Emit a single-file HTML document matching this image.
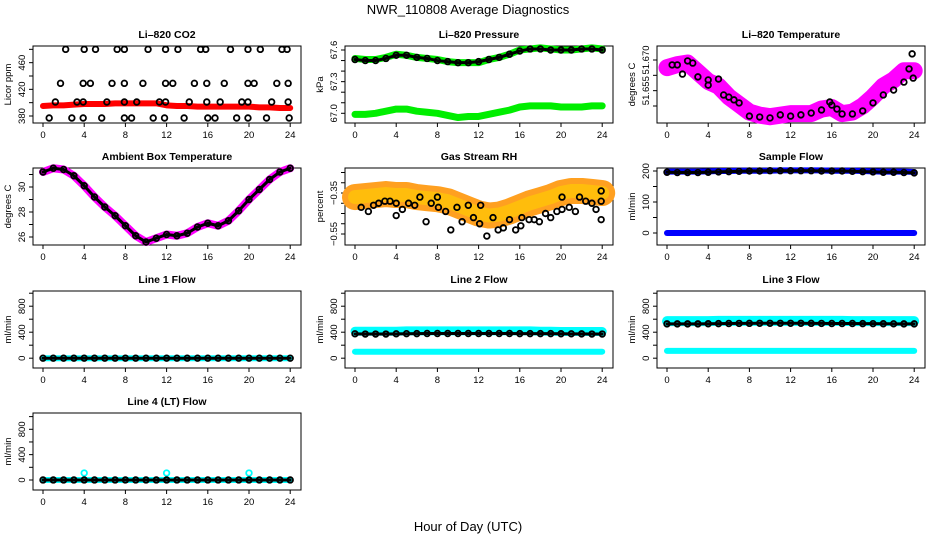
<!DOCTYPE html>
<html><head><meta charset="utf-8"><style>
html,body{margin:0;padding:0;background:#fff;}
svg{display:block;font-family:"Liberation Sans",sans-serif;}
</style></head><body>
<svg id="chart" width="936" height="540" viewBox="0 0 936 540">
<text x="468" y="14" font-size="13" text-anchor="middle">NWR_110808  Average Diagnostics</text>
<text x="468" y="531" font-size="13" text-anchor="middle">Hour of Day (UTC)</text>
</svg>
<script>
const H=[0,1,2,3,4,5,6,7,8,9,10,11,12,13,14,15,16,17,18,19,20,21,22,23,24];
const xTicks=[0,4,8,12,16,20,24];
const co2Red=[395,396,396,397,398,398,398,399,399,399,399,399,396,395,395,394,394,394,394,394,394,393,393,392,392];
const co2BlackH=[2.2,4.0,5.1,7.2,7.9,10.2,11.9,13.1,15.3,15.8,18.2,19.9,21.1,23.2,23.7,
1.7,3.9,4.6,6.7,7.9,9.7,11.9,12.6,14.7,15.9,17.6,19.9,20.5,22.7,23.8,
1.2,3.3,3.9,6.2,7.9,9.1,11.3,11.9,14.2,15.9,17.2,19.3,19.9,22.2,23.8,
0.6,2.8,3.9,5.7,7.9,8.6,10.7,11.8,13.7,16.0,16.7,18.8,19.9,21.7,23.9];
const co2BlackV=[480,480,480,480,480,480,480,480,480,480,480,480,480,480,480,
429,429,429,429,429,429,429,429,429,429,429,429,429,429,429,
401,401,401,401,401,401,401,401,401,401,401,401,401,401,401,
377,377,377,377,377,377,377,377,377,377,377,377,377,377,377];
const pressUp=[67.52,67.51,67.51,67.53,67.56,67.55,67.53,67.52,67.51,67.49,67.48,67.48,67.48,67.51,67.53,67.56,67.6,67.61,67.62,67.61,67.6,67.6,67.61,67.62,67.61];
const pressLow=[66.99,66.99,67.0,67.02,67.04,67.04,67.02,67.01,67.0,66.98,66.96,66.97,66.97,66.99,67.01,67.03,67.06,67.07,67.07,67.07,67.06,67.06,67.06,67.07,67.07];
const pressBlack=[67.51,67.5,67.5,67.52,67.55,67.55,67.53,67.52,67.5,67.49,67.48,67.48,67.49,67.51,67.53,67.56,67.59,67.61,67.61,67.6,67.6,67.6,67.61,67.61,67.6];
const tempBand=[51.6675,51.6685,51.669,51.666,51.663,51.6615,51.658,51.6555,51.653,51.652,51.6515,51.652,51.6525,51.6525,51.6525,51.654,51.6545,51.6525,51.653,51.655,51.658,51.6615,51.6635,51.6665,51.6665];
const tempBlackH=[0.5,1,1.5,2,2.5,3,4,4,5,5.5,6,6.5,7,8,9,10,11,12,13,14,15,15.8,16,16.5,17,18,19,20,21,22,23,23.5,23.8,23.9];
const tempBlackV=[51.6684,51.6684,51.6654,51.6697,51.669,51.6645,51.6635,51.6618,51.6638,51.6586,51.6579,51.657,51.656,51.6517,51.6514,51.6511,51.6521,51.6517,51.6521,51.6527,51.6537,51.6563,51.6553,51.654,51.6524,51.6524,51.6534,51.656,51.6586,51.6602,51.6628,51.6671,51.672,51.6641];
const ambBand=[31.2,31.5,31.4,30.9,30.1,29.2,28.4,27.7,26.9,26.1,25.6,25.9,26.2,26.1,26.3,26.8,27.1,26.9,27.3,28.1,29.0,29.8,30.6,31.2,31.5];
const ambBlack=[31.2,31.5,31.4,30.9,30.1,29.2,28.4,27.7,26.9,26.1,25.6,25.9,26.2,26.1,26.3,26.8,27.1,26.9,27.3,28.1,29.0,29.8,30.6,31.2,31.5];
const rhBand=[-0.37,-0.365,-0.36,-0.355,-0.36,-0.36,-0.37,-0.375,-0.38,-0.39,-0.41,-0.43,-0.45,-0.46,-0.455,-0.44,-0.42,-0.40,-0.385,-0.37,-0.35,-0.34,-0.34,-0.345,-0.35];
const rhBlackH=[0.6,1.3,1.8,2.3,2.9,3.4,4.0,4.0,4.6,5.2,5.8,6.3,6.9,7.4,8.0,8.1,8.8,9.3,9.9,10.4,11.0,11.5,12.1,12.2,12.8,13.4,13.9,14.4,15.0,15.6,16.1,16.2,16.9,17.4,17.9,18.5,19.0,19.6,20.1,20.1,20.8,21.4,21.8,22.4,23.0,23.4,23.9,23.9,23.9];
const rhBlackV=[-0.42,-0.44,-0.41,-0.40,-0.39,-0.39,-0.40,-0.46,-0.43,-0.40,-0.41,-0.37,-0.49,-0.40,-0.37,-0.42,-0.44,-0.53,-0.42,-0.49,-0.41,-0.47,-0.50,-0.41,-0.56,-0.47,-0.53,-0.52,-0.48,-0.53,-0.51,-0.47,-0.48,-0.48,-0.49,-0.45,-0.47,-0.44,-0.43,-0.37,-0.42,-0.44,-0.37,-0.39,-0.40,-0.43,-0.48,-0.39,-0.34];
const sfBlueUp=[198,198,198,198,199,200,200,201,201,201,201,202,202,202,202,202,201,201,201,200,199,198,198,198,197];
const sfBlueLow=[0,0,0,0,0,0,0,0,0,0,0,0,0,0,0,0,0,0,0,0,0,0,0,0,0];
const sfBlack=[196,195,195,195,196,197,198,199,200,200,201,201,201,201,201,200,200,200,199,198,197,196,196,195,194];
const l1Cyan=[0,0,0,0,0,0,0,0,0,0,0,0,0,0,0,0,0,0,0,0,0,0,0,0,0];
const l1Black=[0,0,0,0,0,0,0,0,0,0,0,0,0,0,0,0,0,0,0,0,0,0,0,0,0];
const l2CyanUp=[415,415,415,415,415,420,420,420,420,420,420,420,420,420,420,420,420,420,415,415,410,410,410,410,410];
const l2CyanLow=[100,100,100,100,100,100,100,100,100,100,100,100,100,100,100,100,100,100,100,100,100,100,100,100,100];
const l2Black=[375,372,372,372,375,377,378,380,380,380,380,380,380,380,380,380,378,378,378,378,376,375,374,372,372];
const l3CyanUp=[570,570,570,570,570,575,575,575,575,575,575,575,575,575,575,575,575,575,570,570,570,570,570,570,570];
const l3CyanLow=[112,112,112,112,112,112,112,112,112,112,112,112,112,112,112,112,112,112,112,112,112,112,112,112,112];
const l3Black=[528,528,528,528,530,532,534,535,536,537,537,537,537,537,536,535,534,534,534,532,531,530,529,528,528];
const l4Cyan=[0,0,0,0,0,0,0,0,0,0,0,0,0,0,0,0,0,0,0,0,0,0,0,0,0];
const l4SpikeH=[4,12,20];
const l4SpikeV=[110,110,110];
const l4Black=[0,0,0,0,0,0,0,0,0,0,0,0,0,0,0,0,0,0,0,0,0,0,0,0,0];

const NS="http://www.w3.org/2000/svg";
const svg=document.getElementById('chart');
const colL=[33,345,657], rowT=[46,168,291,413], PW=268, PH=77;
function mk(tag,attrs,parent){const e=document.createElementNS(NS,tag);for(const k in attrs)e.setAttribute(k,attrs[k]);(parent||svg).appendChild(e);return e;}

function panel(c,r,title,ylab,lo,hi,ticks,labels,name){
  const L=colL[c],T=rowT[r];
  const g=mk('g',{});
  
  
  const sx=h=>L+10+h*10.3;
  const sy=v=>T+PH-(v-lo)/(hi-lo)*PH;
  const box=mk('rect',{x:L,y:T,width:PW,height:PH,fill:'none',stroke:'#000','stroke-width':1},g);
  
  
  const t=mk('text',{x:L+PW/2,y:T-8,'font-size':10.5,'font-weight':'bold','text-anchor':'middle'},g);
  t.textContent=title;
  
  
  xTicks.forEach(h=>{
    mk('line',{x1:sx(h),x2:sx(h),y1:T+PH,y2:T+PH+4,stroke:'#000'},g);
    const lt=mk('text',{x:sx(h),y:T+PH+15,'font-size':9.5,'text-anchor':'middle'},g);
    lt.textContent=h;
    
    
  });
  ticks.forEach((v,i)=>{
    mk('line',{x1:L-4,x2:L,y1:sy(v),y2:sy(v),stroke:'#000'},g);
    if(labels[i]){
      const yl=mk('text',{x:L-8,y:sy(v),'font-size':9.5,'text-anchor':'middle',transform:`rotate(-90 ${L-8} ${sy(v)})`},g);
      yl.textContent=labels[i];
      
      
    }
  });
  const yt=mk('text',{x:L-22,y:T+PH/2,'font-size':9.5,'text-anchor':'middle',transform:`rotate(-90 ${L-22} ${T+PH/2})`},g);
  yt.textContent=ylab;
  
  
  return {g,sx,sy};
}
function band(p,hs,vs,color,w,name,op){
  const pts=hs.map((h,i)=>p.sx(h)+','+p.sy(vs[i])).join(' ');
  const e=mk('polyline',{points:pts,fill:'none',stroke:color,'stroke-width':w,'stroke-linejoin':'round','stroke-linecap':'round',opacity:op||1},p.g);
  
  
}
function circles(p,hs,vs,color,name,r){
  hs.forEach((h,i)=>{
    const e=mk('circle',{cx:p.sx(h),cy:p.sy(vs[i]),r:r||2.8,fill:'none',stroke:color,'stroke-width':1.8},p.g);
    
    
  });
}
function thin(p,hs,vs,color){ band(p,hs,vs,color,3,'series-line'); }

// Row 1
let p=panel(0,0,'Li\u2013820 CO2','Licor ppm',369.5,485,[380,400,420,440,460,480],['380','','420','','460',''],'co2');
band(p,H,co2Red,'#ff0000',6,'co2-red-band');
circles(p,co2BlackH,co2BlackV,'#000','co2-black-point');

p=panel(1,0,'Li\u2013820 Pressure','kPa',66.908,67.638,[67.0,67.1,67.2,67.3,67.4,67.5,67.6],['67.0','','','67.3','','','67.6'],'pressure');
band(p,H,pressUp,'#00ee00',7,'pressure-upper-band');
band(p,H,pressLow,'#00ee00',7,'pressure-lower-band');
thin(p,H,pressBlack,'#000');
circles(p,H,pressBlack,'#000','pressure-black-point');

p=panel(2,0,'Li\u2013820 Temperature','degrees C',51.64945,51.67457,[51.670,51.665,51.660,51.655],['51.670','','51.655',''],'temperature');
band(p,H,tempBand,'#ff00ff',17,'temperature-magenta-band');
circles(p,tempBlackH,tempBlackV,'#000','temperature-black-point');

// Row 2
p=panel(0,1,'Ambient Box Temperature','degrees C',25.36,31.52,[26,27,28,29,30,31],['26','','28','','30',''],'ambient');
band(p,H,ambBand,'#ff00ff',8,'ambient-magenta-band');
thin(p,H,ambBlack,'#000');
circles(p,H,ambBlack,'#000','ambient-black-point');

p=panel(1,1,'Gas Stream RH','percent',-0.6037,-0.228,[-0.55,-0.50,-0.45,-0.40,-0.35,-0.30,-0.25],['\u22120.55','','','','\u22120.35','',''],'rh');
band(p,H,rhBand,'#ffa020',26,'rh-orange-band');
band(p,H,rhBand,'#ffd000',14,'rh-yellow-band',0.6);
circles(p,rhBlackH,rhBlackV,'#000','rh-black-point');

p=panel(2,1,'Sample Flow','ml/min',-38.7,209.7,[0,50,100,150,200],['0','','100','','200'],'sample-flow');
band(p,H,sfBlueUp,'#0000ff',6,'sample-flow-blue-upper');
band(p,H,sfBlueLow,'#0000ff',6,'sample-flow-blue-lower');
thin(p,H,sfBlack,'#000');
circles(p,H,sfBlack,'#000','sample-flow-black-point');

// Row 3
const fT=[0,200,400,600,800,1000], fL=['0','','400','','800',''];
p=panel(0,2,'Line 1 Flow','ml/min',-151,1034,fT,fL,'line1');
band(p,H,l1Cyan,'#00ffff',6,'line1-cyan-band');
thin(p,H,l1Black,'#000');
circles(p,H,l1Black,'#000','line1-black-point');

p=panel(1,2,'Line 2 Flow','ml/min',-151,1034,fT,fL,'line2');
band(p,H,l2CyanUp,'#00ffff',9,'line2-cyan-upper');
band(p,H,l2CyanLow,'#00ffff',6,'line2-cyan-lower');
thin(p,H,l2Black,'#000');
circles(p,H,l2Black,'#000','line2-black-point');

p=panel(2,2,'Line 3 Flow','ml/min',-151,1034,fT,fL,'line3');
band(p,H,l3CyanUp,'#00ffff',10,'line3-cyan-upper');
band(p,H,l3CyanLow,'#00ffff',6,'line3-cyan-lower');
thin(p,H,l3Black,'#000');
circles(p,H,l3Black,'#000','line3-black-point');

// Row 4
p=panel(0,3,'Line 4 (LT) Flow','ml/min',-158,1057,fT,fL,'line4');
band(p,H,l4Cyan,'#00ffff',6,'line4-cyan-band');
circles(p,l4SpikeH,l4SpikeV,'#00ffff','line4-cyan-spike');
thin(p,H,l4Black,'#000');
circles(p,H,l4Black,'#000','line4-black-point');
</script>
</body></html>
